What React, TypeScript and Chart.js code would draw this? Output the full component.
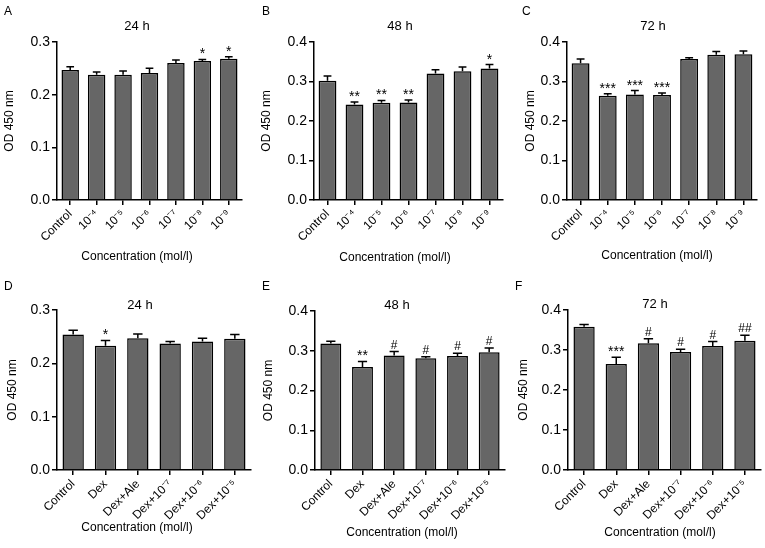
import React, { useEffect, useRef } from "react";
import { Chart, registerables } from "chart.js";

Chart.register(...registerables);

const FONT = "'Liberation Sans', Arial, Helvetica, sans-serif";

// ---- categories ----
const doseLabels = ["Control", "10⁻⁴", "10⁻⁵", "10⁻⁶", "10⁻⁷", "10⁻⁸", "10⁻⁹"];
const dexLabels = ["Control", "Dex", "Dex+Ale", "Dex+10⁻⁷", "Dex+10⁻⁶", "Dex+10⁻⁵"];

// ---- panel A: 24 h, dose ----
const meanA = [0.247, 0.238, 0.238, 0.241, 0.26, 0.264, 0.268];
const semA = [0.006, 0.005, 0.007, 0.009, 0.006, 0.003, 0.004];
const marksA = ["", "", "", "", "", "*", "*"];

// ---- panel B: 48 h, dose ----
const meanB = [0.302, 0.242, 0.246, 0.247, 0.32, 0.326, 0.333];
const semB = [0.012, 0.006, 0.006, 0.006, 0.01, 0.011, 0.01];
const marksB = ["", "**", "**", "**", "", "", "*"];

// ---- panel C: 72 h, dose ----
const meanC = [0.346, 0.264, 0.267, 0.266, 0.357, 0.368, 0.369];
const semC = [0.011, 0.005, 0.01, 0.005, 0.003, 0.008, 0.008];
const marksC = ["", "***", "***", "***", "", "", ""];

// ---- panel D: 24 h, Dex ----
const meanD = [0.254, 0.233, 0.247, 0.237, 0.241, 0.246];
const semD = [0.008, 0.01, 0.008, 0.004, 0.006, 0.008];
const marksD = ["", "*", "", "", "", ""];

// ---- panel E: 48 h, Dex ----
const meanE = [0.318, 0.259, 0.288, 0.281, 0.287, 0.296];
const semE = [0.006, 0.014, 0.01, 0.004, 0.007, 0.011];
const marksE = ["", "**", "#", "#", "#", "#"];

// ---- panel F: 72 h, Dex ----
const meanF = [0.358, 0.265, 0.317, 0.295, 0.31, 0.323];
const semF = [0.006, 0.017, 0.011, 0.007, 0.011, 0.014];
const marksF = ["", "***", "#", "#", "#", "##"];

const yTickValues03 = [0, 0.1, 0.2, 0.3];
const yTickValues04 = [0, 0.1, 0.2, 0.3, 0.4];

const xTitleText = "Concentration (mol/l)";
const yTitleText = "OD 450 nm";

const decoPlugin = {
  id: "deco",
  afterDatasetsDraw(chart: any, _args: any, opts: any) {
    const ctx = chart.ctx;
    const meta = chart.getDatasetMeta(0);
    const y = chart.scales.y;
    ctx.save();
    ctx.strokeStyle = "#000";
    ctx.fillStyle = "#000";
    ctx.lineWidth = 1.5;
    meta.data.forEach((bar: any, i: number) => {
      const top = y.getPixelForValue(opts.means[i] + opts.sems[i]);
      const half = bar.width * 0.22;
      ctx.beginPath();
      ctx.moveTo(bar.x, bar.y);
      ctx.lineTo(bar.x, top);
      ctx.moveTo(bar.x - half, top);
      ctx.lineTo(bar.x + half, top);
      ctx.stroke();
      const m = opts.marks[i];
      if (m) {
        const isStar = m.indexOf("*") >= 0;
        ctx.font = `${isStar ? 14 : 12}px ${FONT}`;
        ctx.textAlign = "center";
        ctx.textBaseline = "alphabetic";
        ctx.fillText(m, bar.x, top - (isStar ? 1 : 3));
      }
    });
    // panel letter
    ctx.font = `12px ${FONT}`;
    ctx.textAlign = "left";
    ctx.textBaseline = "middle";
    ctx.fillText(opts.letter, opts.letterPos[0], opts.letterPos[1]);
    // panel title
    ctx.font = `13px ${FONT}`;
    ctx.textAlign = "center";
    ctx.fillText(opts.title, opts.titlePos[0], opts.titlePos[1]);
    // x axis title
    ctx.font = `12px ${FONT}`;
    ctx.fillText(xTitleText, opts.xTitlePos[0], opts.xTitlePos[1]);
    ctx.restore();
  },
};

type PanelProps = {
  left: number;
  top: number;
  width: number;
  height: number;
  labels: string[];
  means: number[];
  sems: number[];
  marks: string[];
  yTicks: number[];
  area: { left: number; right: number; top: number; bottom: number };
  letter: string;
  letterPos: [number, number];
  title: string;
  titlePos: [number, number];
  xTitlePos: [number, number];
  yTitleCenter: number;
};

function Panel(p: PanelProps) {
  const ref = useRef<HTMLCanvasElement | null>(null);
  useEffect(() => {
    if (!ref.current) return;
    const ymax = p.yTicks[p.yTicks.length - 1];
    const chart = new Chart(ref.current, {
      type: "bar",
      data: {
        labels: p.labels,
        datasets: [
          {
            data: p.means,
            backgroundColor: "#666666",
            borderColor: "#000000",
            borderWidth: 1.5,
            barPercentage: 0.66,
            categoryPercentage: 1,
          },
        ],
      },
      options: {
        animation: false,
        responsive: false,
        events: [],
        layout: {
          padding: { left: 0, top: p.area.top, right: p.width - p.area.right, bottom: 0 },
        },
        plugins: {
          legend: { display: false },
          tooltip: { enabled: false },
          title: { display: false },
          deco: {
            means: p.means,
            sems: p.sems,
            marks: p.marks,
            letter: p.letter,
            letterPos: p.letterPos,
            title: p.title,
            titlePos: p.titlePos,
            xTitlePos: p.xTitlePos,
          },
        } as any,
        scales: {
          x: {
            type: "category",
            offset: true,
            grid: {
              display: true,
              drawOnChartArea: false,
              drawTicks: true,
              tickLength: 5,
              offset: false,
              color: "#000",
              lineWidth: 1.5,
            },
            border: { display: true, color: "#000", width: 1.5 },
            ticks: {
              minRotation: 45,
              maxRotation: 45,
              autoSkip: false,
              padding: 2,
              color: "#000",
              font: { family: FONT, size: 12 },
            },
            afterFit: (s: any) => {
              s.height = p.height - p.area.bottom;
            },
          },
          y: {
            type: "linear",
            min: 0,
            max: ymax,
            afterBuildTicks: (s: any) => {
              s.ticks = p.yTicks.map((v) => ({ value: v }));
            },
            ticks: {
              callback: (v: any) => Number(v).toFixed(1),
              padding: 2,
              color: "#000",
              font: { family: FONT, size: 14 },
            },
            grid: {
              drawOnChartArea: false,
              tickLength: 5,
              color: "#000",
              lineWidth: 1.5,
            },
            border: { display: true, color: "#000", width: 1.5 },
            title: {
              display: true,
              text: yTitleText,
              color: "#000",
              font: { family: FONT, size: 12 },
              padding: { top: Math.max(0, p.yTitleCenter - 7.2), bottom: 0 },
            },
            afterFit: (s: any) => {
              s.width = p.area.left;
            },
          },
        },
      } as any,
      plugins: [decoPlugin as any],
    });
    return () => chart.destroy();
  }, []);
  return (
    <canvas
      ref={ref}
      width={p.width}
      height={p.height}
      style={{ position: "absolute", left: p.left, top: p.top, width: p.width, height: p.height }}
    />
  );
}

export default function App() {
  return (
    <div
      style={{
        position: "absolute",
        left: 0,
        top: 0,
        width: 765,
        height: 548,
        background: "#fff",
        overflow: "hidden",
      }}
    >
      <Panel
        left={0} top={0} width={255} height={270}
        labels={doseLabels} means={meanA} sems={semA} marks={marksA} yTicks={yTickValues03}
        area={{ left: 57, right: 242, top: 42, bottom: 200 }}
        letter="A" letterPos={[4, 12]} title="24 h" titlePos={[137, 26]} xTitlePos={[137, 257]} yTitleCenter={10}
      />
      <Panel
        left={255} top={0} width={255} height={270}
        labels={doseLabels} means={meanB} sems={semB} marks={marksB} yTicks={yTickValues04}
        area={{ left: 59, right: 248, top: 42, bottom: 200 }}
        letter="B" letterPos={[7, 12]} title="48 h" titlePos={[145, 26]} xTitlePos={[140, 258]} yTitleCenter={12}
      />
      <Panel
        left={510} top={0} width={255} height={270}
        labels={doseLabels} means={meanC} sems={semC} marks={marksC} yTicks={yTickValues04}
        area={{ left: 57, right: 247, top: 42, bottom: 200 }}
        letter="C" letterPos={[12, 12]} title="72 h" titlePos={[143, 26]} xTitlePos={[147, 256]} yTitleCenter={21}
      />
      <Panel
        left={0} top={270} width={255} height={278}
        labels={dexLabels} means={meanD} sems={semD} marks={marksD} yTicks={yTickValues03}
        area={{ left: 57, right: 251, top: 40, bottom: 200 }}
        letter="D" letterPos={[4, 17]} title="24 h" titlePos={[140, 35]} xTitlePos={[137, 258]} yTitleCenter={13}
      />
      <Panel
        left={255} top={270} width={255} height={278}
        labels={dexLabels} means={meanE} sems={semE} marks={marksE} yTicks={yTickValues04}
        area={{ left: 60, right: 250, top: 41, bottom: 200 }}
        letter="E" letterPos={[7, 17]} title="48 h" titlePos={[142, 35]} xTitlePos={[147, 263]} yTitleCenter={14}
      />
      <Panel
        left={510} top={270} width={255} height={278}
        labels={dexLabels} means={meanF} sems={semF} marks={marksF} yTicks={yTickValues04}
        area={{ left: 58, right: 251, top: 40, bottom: 200 }}
        letter="F" letterPos={[5, 17]} title="72 h" titlePos={[145, 34]} xTitlePos={[150, 263]} yTitleCenter={14}
      />
    </div>
  );
}
